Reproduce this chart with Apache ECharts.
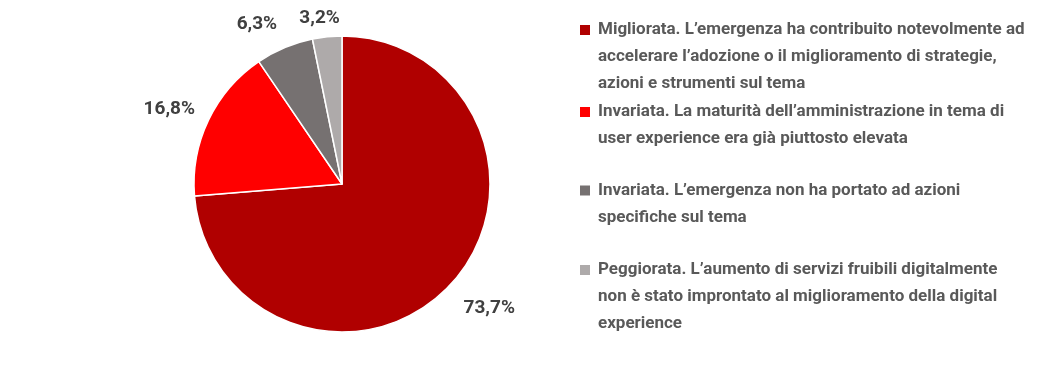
<!DOCTYPE html>
<html><head><meta charset="utf-8">
<script src="https://cdn.jsdelivr.net/npm/echarts@6/dist/echarts.min.js"></script>
<style>html,body{margin:0;padding:0;background:#fff}#c{width:1038px;height:368px}</style>
</head><body><div id="c"></div>
<script>
const categories = [
  'Migliorata. L’emergenza ha contribuito notevolmente ad accelerare l’adozione o il miglioramento di strategie, azioni e strumenti sul tema',
  'Invariata. La maturità dell’amministrazione in tema di user experience era già piuttosto elevata',
  'Invariata. L’emergenza non ha portato ad azioni specifiche sul tema',
  'Peggiorata. L’aumento di servizi fruibili digitalmente non è stato improntato al miglioramento della digital experience'
];
const legendLines = [
  ['Migliorata. L’emergenza ha contribuito notevolmente ad', 'accelerare l’adozione o il miglioramento di strategie,', 'azioni e strumenti sul tema'],
  ['Invariata. La maturità dell’amministrazione in tema di', 'user experience era già piuttosto elevata'],
  ['Invariata. L’emergenza non ha portato ad azioni', 'specifiche sul tema'],
  ['Peggiorata. L’aumento di servizi fruibili digitalmente', 'non è stato improntato al miglioramento della digital', 'experience']
];
const values = [73.7, 16.8, 6.3, 3.2];
const valueLabels = ['73,7%', '16,8%', '6,3%', '3,2%'];
const colors = ['#B00000', '#FF0000', '#767171', '#AEAAAA'];

// style / layout
const labelOffsets = [[12.7, 0], [-7.6, 4], [-14, 9], [-4, 16]];
const markerCenters = [30, 112, 190.5, 270];
const LH = 27;

// The legend centres its text on the marker; blank lines above the text
// keep the marker level with the first line.
function legendText(i) {
  const lines = legendLines[i];
  return '\n'.repeat(lines.length - 1) + lines.join('\n');
}
function legendTop(i) {
  const m = 2 * legendLines[i].length - 1;
  return markerCenters[i] - (m * LH / 2 - LH / 2 + 8.5 + 5) - 5;
}

const chart = echarts.init(document.getElementById('c'), null, {renderer: 'canvas'});
const option = {
  animation: false,
  backgroundColor: '#ffffff',
  color: colors,
  legend: categories.map((name, i) => ({
    orient: 'vertical', left: 575, top: legendTop(i),
    icon: 'rect', itemWidth: 10, itemHeight: 10, selectedMode: false,
    itemStyle: {borderWidth: 0},
    data: [name],
    formatter: n => legendText(categories.indexOf(n)),
    textStyle: {fontFamily: 'Roboto', fontWeight: 'bold', fontSize: 17, color: '#595959',
      lineHeight: LH, padding: [0, 0, 0, 3]}
  })),
  series: [
    {
      type: 'pie', center: [342, 184], radius: 148, startAngle: 90, clockwise: true,
      label: {show: false}, labelLine: {show: false},
      itemStyle: {borderColor: '#ffffff', borderWidth: 1.5},
      emphasis: {disabled: true},
      data: categories.map((n, i) => ({name: n, value: values[i]}))
    },
    {
      type: 'pie', center: [342, 184], radius: [148, 212], startAngle: 90, clockwise: true,
      silent: true, emphasis: {disabled: true},
      itemStyle: {color: 'rgba(0,0,0,0)', borderWidth: 0},
      label: {show: true, position: 'inside', formatter: '{b}', color: '#404040',
        fontFamily: 'Roboto', fontWeight: 'bold', fontSize: 19},
      labelLine: {show: false},
      labelLayout: p => ({dx: labelOffsets[p.dataIndex][0], dy: labelOffsets[p.dataIndex][1]}),
      data: valueLabels.map((n, i) => ({name: n, value: values[i]}))
    }
  ]
};
chart.setOption(option);
</script></body></html>
